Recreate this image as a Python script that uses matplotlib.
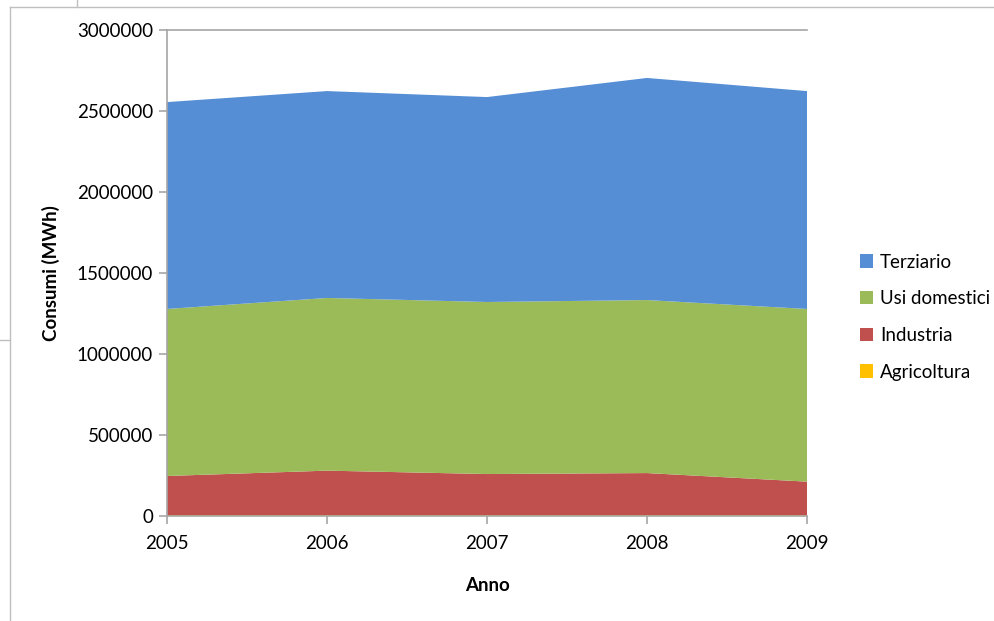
import matplotlib
matplotlib.use("Agg")
import matplotlib.pyplot as plt
from matplotlib.lines import Line2D
from matplotlib.patches import Patch

years = [2005, 2006, 2007, 2008, 2009]
series_names = ["Agricoltura", "Industria", "Usi domestici", "Terziario"]
agricoltura = [5000, 5000, 5000, 5000, 5000]
industria = [242000, 275000, 254000, 260000, 207000]
usi_domestici = [1031000, 1066000, 1062000, 1068000, 1066000]
terziario = [1277000, 1277000, 1265000, 1371000, 1345000]
colors = ["#FFC000", "#C0504D", "#9BBB59", "#558ED5"]
yticks = [0, 500000, 1000000, 1500000, 2000000, 2500000, 3000000]

plt.rcParams['font.family'] = ['Lato', 'DejaVu Sans']

W, H = 994, 621
fig = plt.figure(figsize=(W / 100, H / 100), dpi=100)
ax = fig.add_axes([167 / W, 1 - 516 / H, (807 - 167) / W, (516 - 30) / H])

ax.stackplot(years, agricoltura, industria, usi_domestici, terziario,
             colors=colors, linewidth=0)

ax.set_xlim(2005, 2009)
ax.set_ylim(0, 3000000)
ax.set_xticks(years)
ax.set_xticklabels([str(y) for y in years])
ax.set_yticks(yticks)
ax.set_yticklabels([str(v) for v in yticks])

grey = "#A6A6A6"
for s in ["right"]:
    ax.spines[s].set_visible(False)
for s in ["left", "bottom", "top"]:
    ax.spines[s].set_color(grey)
    ax.spines[s].set_linewidth(1.2)
ax.tick_params(axis="both", colors=grey, length=6, width=1.2, labelsize=13.5,
               labelcolor="black")
ax.tick_params(axis="x", pad=8)
ax.tick_params(axis="y", pad=4)

ax.set_xlabel("Anno", fontsize=13.5, fontweight="bold", labelpad=18)
ax.set_ylabel("Consumi (MWh)", fontsize=13.5, fontweight="bold", labelpad=12)

handles = [Patch(facecolor=c, edgecolor="none") for c in colors[::-1]]
leg = fig.legend(handles, series_names[::-1], loc="upper left",
                 bbox_to_anchor=(852 / W, 1 - 246 / H), frameon=False,
                 fontsize=13.5, handlelength=0.7, handleheight=0.7,
                 handletextpad=0.4, labelspacing=1.05, borderaxespad=0)

# outer chart frame lines
fig.add_artist(Line2D([10 / W, 1], [1 - 7 / H, 1 - 7 / H], transform=fig.transFigure,
                      color="#BFBFBF", lw=1))
fig.add_artist(Line2D([10 / W, 10 / W], [0, 1 - 7 / H], transform=fig.transFigure,
                      color="#BFBFBF", lw=1))
fig.add_artist(Line2D([77 / W, 77 / W], [1 - 7 / H, 1], transform=fig.transFigure,
                      color="#BFBFBF", lw=1))
fig.add_artist(Line2D([0, 10 / W], [1 - 340 / H, 1 - 340 / H], transform=fig.transFigure,
                      color="#BFBFBF", lw=1))

fig.savefig("out.png", dpi=100)
